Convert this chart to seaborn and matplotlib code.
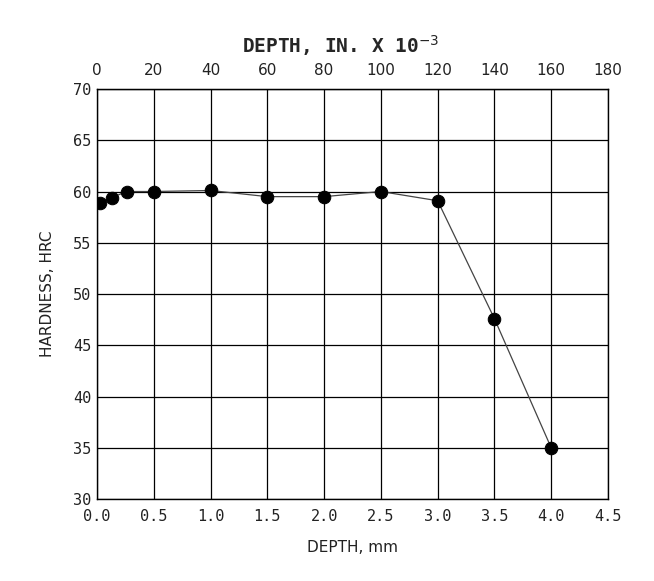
import matplotlib
matplotlib.use("Agg")
import matplotlib.pyplot as plt
import seaborn as sns
import pandas as pd

# Hardness profile
depth_mm = [0.03, 0.13, 0.26, 0.5, 1.0, 1.5, 2.0, 2.5, 3.0, 3.5, 4.0]
hardness_hrc = [58.9, 59.4, 60.0, 60.0, 60.1, 59.5, 59.5, 60.0, 59.1, 47.6, 35.0]

x_ticks = [0.0, 0.5, 1.0, 1.5, 2.0, 2.5, 3.0, 3.5, 4.0, 4.5]
y_ticks = [30, 35, 40, 45, 50, 55, 60, 65, 70]
top_ticks = [0, 20, 40, 60, 80, 100, 120, 140, 160, 180]

data = pd.DataFrame({"depth": depth_mm, "hardness": hardness_hrc})

sns.set_style("white")
plt.rcParams['font.family'] = ['DejaVu Sans']

fig = plt.figure(figsize=(6.54, 5.81), dpi=100)
ax = fig.add_axes([0.1483, 0.1411, 0.7813, 0.7057])

sns.lineplot(data=data, x="depth", y="hardness", ax=ax, color="#444444",
             linewidth=0.9, marker="o", markersize=9, markerfacecolor="black",
             markeredgecolor="black", zorder=3)

ax.set_xlim(0, 4.5)
ax.set_ylim(30, 70)
ax.set_xticks(x_ticks)
ax.set_xticklabels([f"{t:.1f}" for t in x_ticks], family="DejaVu Sans Mono", fontsize=11, color="#222222")
ax.set_yticks(y_ticks)
ax.set_yticklabels([str(t) for t in y_ticks], family="DejaVu Sans Mono", fontsize=11, color="#222222")
ax.tick_params(axis="x", length=0, pad=7)
ax.tick_params(axis="y", length=0, pad=4)
ax.grid(True, color="black", linewidth=0.9)
for s in ax.spines.values():
    s.set_color("black")
    s.set_linewidth(1.0)

ax.set_xlabel("DEPTH, mm", fontsize=11, color="#222222", labelpad=12)
ax.set_ylabel("HARDNESS, HRC", fontsize=11, color="#222222", labelpad=13)

top = ax.secondary_xaxis("top", functions=(lambda v: v * 40, lambda v: v / 40))
top.set_xticks(top_ticks)
top.set_xticklabels([str(t) for t in top_ticks], family="DejaVu Sans", fontsize=11, color="#222222")
top.tick_params(length=0, pad=8)
top.set_xlabel(r"DEPTH, IN. X 10$^{-3}$", family="DejaVu Sans Mono", fontweight="bold",
               fontsize=14, labelpad=7)
top.xaxis.label.set_x(0.476)

fig.savefig("out.png", dpi=100)
